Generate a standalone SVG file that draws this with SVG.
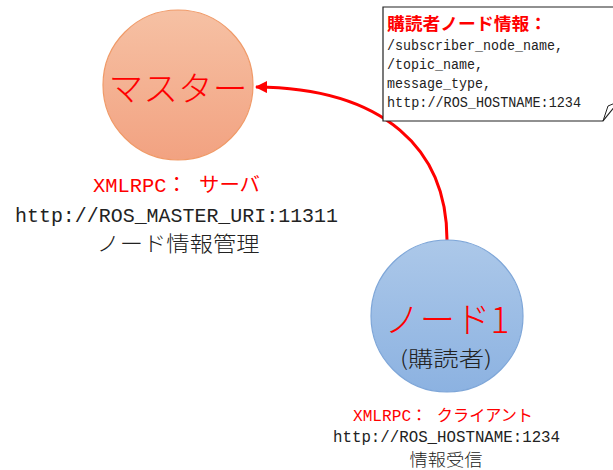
<svg xmlns="http://www.w3.org/2000/svg" width="613" height="470" viewBox="0 0 613 470">
<defs>
<linearGradient id="gM" x1="0" y1="0" x2="0" y2="1"><stop offset="0" stop-color="#F6C1A4"/><stop offset="1" stop-color="#F2A281"/></linearGradient>
<linearGradient id="gN" x1="0" y1="0" x2="0" y2="1"><stop offset="0" stop-color="#ACC8E9"/><stop offset="1" stop-color="#8CB2E1"/></linearGradient>
<marker id="ah" markerWidth="14" markerHeight="14" refX="11" refY="6" orient="auto" markerUnits="userSpaceOnUse"><path d="M0,0 L12,6 L0,12 Z" fill="#FF0000"/></marker>
<style>
.m{font-family:"Liberation Mono","Noto Sans CJK JP",monospace;}
.s{font-family:"Noto Sans CJK JP","Liberation Serif",sans-serif;}
.red{fill:#FF0000;}
.blk{fill:#222;}
.lt{font-weight:300;}
</style>
</defs>
<g id="connectors">
<path d="M447,240 C447,150 385,88 256,87" fill="none" stroke="#FF0000" stroke-width="3" marker-end="url(#ah)"/>
</g>
<g id="master">
<circle cx="178" cy="85" r="75" fill="url(#gM)" stroke="#F09A68" stroke-width="1.2"/>
<text x="178" y="101" text-anchor="middle" class="s red lt" font-size="34" textLength="139" lengthAdjust="spacingAndGlyphs">マスター</text>
<text x="93" y="192" class="m red" font-size="20" textLength="167" lengthAdjust="spacingAndGlyphs">XMLRPC： サーバ</text>
<text x="15" y="222" class="m blk" font-size="21" textLength="323" lengthAdjust="spacingAndGlyphs">http://ROS_MASTER_URI:11311</text>
<text x="178" y="251" text-anchor="middle" class="s blk lt" font-size="21" textLength="163" lengthAdjust="spacingAndGlyphs">ノード情報管理</text>
</g>
<g id="node1">
<circle cx="447" cy="316" r="76" fill="url(#gN)" stroke="#7EA6D8" stroke-width="1.2"/>
<text x="447" y="333" text-anchor="middle" class="s red lt" font-size="36" textLength="125" lengthAdjust="spacingAndGlyphs">ノード1</text>
<text x="446" y="366" text-anchor="middle" class="s blk lt" font-size="21" textLength="92" lengthAdjust="spacingAndGlyphs">(購読者)</text>
<text x="353" y="421" class="m red" font-size="16" textLength="180" lengthAdjust="spacingAndGlyphs">XMLRPC： クライアント</text>
<text x="333" y="442" class="m blk" font-size="16" textLength="227" lengthAdjust="spacingAndGlyphs">http://ROS_HOSTNAME:1234</text>
<text x="446" y="466" text-anchor="middle" class="s blk lt" font-size="17" textLength="73" lengthAdjust="spacingAndGlyphs">情報受信</text>
</g>
<g id="note">
<path d="M383,7 H620 V100 L603,121 H383 Z" fill="#FFFFFF" stroke="#222" stroke-width="1.2"/>
<path d="M603,121 L608,106 L620,101" fill="none" stroke="#222" stroke-width="1"/>
<text x="387" y="30" class="s red" font-size="17" font-weight="bold" textLength="160" lengthAdjust="spacingAndGlyphs">購読者ノード情報：</text>
<text x="387" y="50" class="m blk" font-size="14" textLength="176" lengthAdjust="spacingAndGlyphs">/subscriber_node_name,</text>
<text x="387" y="69" class="m blk" font-size="14" textLength="96" lengthAdjust="spacingAndGlyphs">/topic_name,</text>
<text x="387" y="88" class="m blk" font-size="14" textLength="104" lengthAdjust="spacingAndGlyphs">message_type,</text>
<text x="387" y="107" class="m blk" font-size="14" textLength="194" lengthAdjust="spacingAndGlyphs">http://ROS_HOSTNAME:1234</text>
</g>
</svg>
